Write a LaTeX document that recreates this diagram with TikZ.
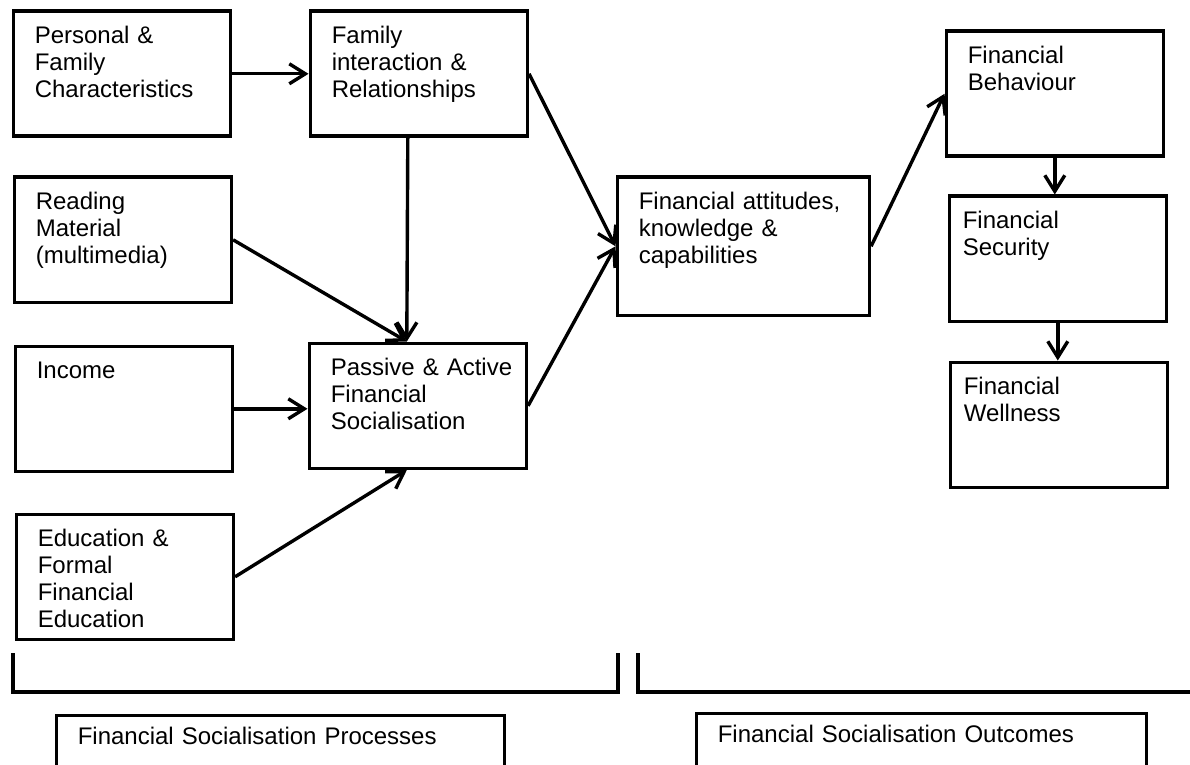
\documentclass[tikz,border=0pt]{standalone}
\usepackage{fontspec}
\setmainfont{Liberation Sans}
\usetikzlibrary{arrows.meta}

\begin{document}
\begin{tikzpicture}[x=0.5pt, y=-0.5pt,
  every node/.style={font=\fontsize{12}{13.5}\selectfont},
  box/.style={draw, line width=1.8pt, anchor=north west, align=left,
    inner xsep=10.75pt, inner ysep=0pt, text width=87pt,
    text height=16.25pt, text depth=46.25pt},
  link/.style={-{Straight Barb[length=8pt, width=10pt]}, line width=1.7pt}]

  \useasboundingbox (0,0) rectangle (1190,765);
  \clip (0,0) rectangle (1190,765);

  %%%%%%%%%%%%%%%%%%%%%%%%%%%%%%
  % Process boxes (left side)  %
  %%%%%%%%%%%%%%%%%%%%%%%%%%%%%%
  \node[box] (pers) at (11.5,9.5) {Personal \&\\Family\\Characteristics};
  \node[box] (fam) at (308.5,9.5) {Family\\interaction \&\\Relationships};
  \node[box] (read) at (12.5,175.5) {Reading\\Material\\(multimedia)};
  \node[box] (inc) at (13.5,344.5) {Income};
  \node[box] (pass) at (307.5,341.5) {\mbox{Passive \& Active}\\Financial\\Socialisation};
  \node[box] (edu) at (14.5,512.5) {Education \&\\Formal\\Financial\\Education};

  %%%%%%%%%%%%%%%%%%%%%%%%%%%%%%
  % Outcome boxes (right side) %
  %%%%%%%%%%%%%%%%%%%%%%%%%%%%%%
  \node[box, text width=104.5pt, text depth=52.75pt] (att) at (615.5,175.5)
        {Financial attitudes,\\knowledge \&\\capabilities};
  \node[box] (beh) at (944.5,29.5) {Financial\\Behaviour};
  \node[box, inner xsep=6.75pt, text width=95pt] (sec) at (947.5,194.5) {Financial\\Security};
  \node[box, inner xsep=6.75pt, text width=95pt] (well) at (948.5,360.5) {Financial\\Wellness};

  %%%%%%%%%%%%%%%%%%%%%%%%%%%%%%
  % Arrows                     %
  %%%%%%%%%%%%%%%%%%%%%%%%%%%%%%
  \coordinate (passtop) at ([xshift=-5.5pt]pass.north);
  \coordinate (passbot) at ([xshift=-5.5pt]pass.south);
  \draw[link] (pers.east) -- (fam.west);
  \draw[link] ([xshift=-5.5pt]fam.south) -- (passtop);
  \draw[link] (read.east) -- (passtop);
  \draw[link] (inc.east) -- (inc.east -| pass.west);
  \draw[link] (edu.east) -- (passbot);
  \draw[link] (fam.east) -- (att.west);
  \draw[link] (pass.east) -- (att.west);
  \draw[link] (att.east) -- (beh.west);
  \draw[link] (beh.south) -- (beh.south |- sec.north);
  \draw[link] (sec.south) -- (sec.south |- well.north);

  %%%%%%%%%%%%%%%%%%%%%%%%%%%%%%
  % Brackets and captions      %
  %%%%%%%%%%%%%%%%%%%%%%%%%%%%%%
  \draw[line width=1.8pt] (13,653) -- (13,692) -- (618,692) -- (618,653);
  \draw[line width=1.8pt] (638,653) -- (638,692) -- (1192,692);
  \node[box, text width=202.5pt, text height=14.75pt, text depth=40pt] (proc) at (54.5,713.5)
        {Financial Socialisation Processes};
  \node[box, text width=203.5pt, text height=14.75pt, text depth=40pt] (outc) at (694.5,711.5)
        {Financial Socialisation Outcomes};

\end{tikzpicture}
\end{document}
